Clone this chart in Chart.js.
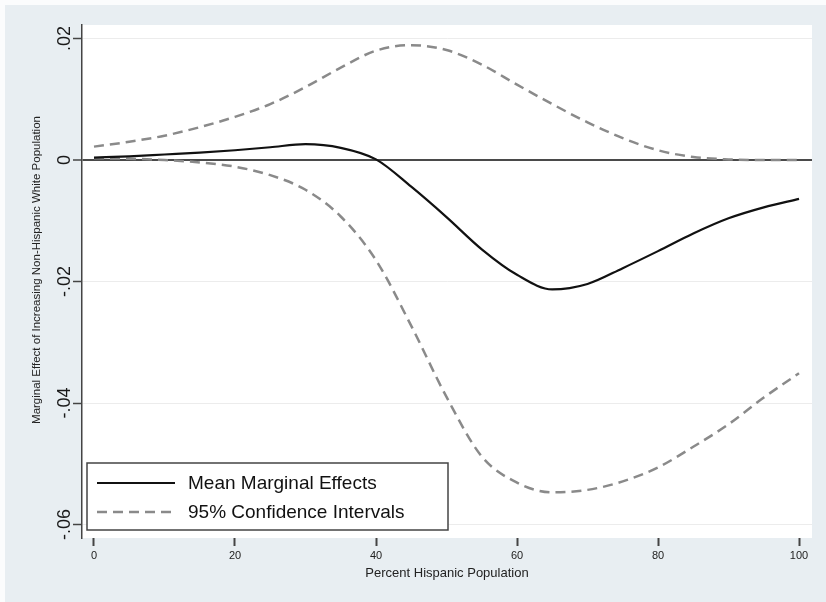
<!DOCTYPE html>
<html>
<head>
<meta charset="utf-8">
<script src="https://cdn.jsdelivr.net/npm/chart.js@4.4.1/dist/chart.umd.min.js"></script>
<style>
  html, body { margin: 0; padding: 0; background: #e8eef2; overflow: hidden; }
  #wrap { width: 826px; height: 602px; }
  canvas { display: block; }
</style>
</head>
<body>
<div id="wrap"><canvas id="c" width="826" height="602"></canvas></div>
<script>
// ---- Data ----
const xValues    = [0, 5, 10, 15, 20, 25, 30, 35, 40, 45, 50, 55, 60, 65, 70, 75, 80, 85, 90, 95, 100];
const meanEffect = [0.0004, 0.0006, 0.0009, 0.0012, 0.0016, 0.0021, 0.0026, 0.0020, 0.0001, -0.0044, -0.0094, -0.0147, -0.0189, -0.0213, -0.0204, -0.0178, -0.0150, -0.0121, -0.0096, -0.0078, -0.0064];
const upperCI    = [0.0022, 0.0030, 0.0040, 0.0054, 0.0071, 0.0092, 0.0120, 0.0152, 0.0180, 0.0189, 0.0181, 0.0157, 0.0124, 0.0092, 0.0062, 0.0036, 0.0016, 0.0005, 0.0001, 0.0000, 0.0000];
const lowerCI    = [0.0003, 0.0002, 0.0000, -0.0004, -0.0011, -0.0025, -0.0049, -0.0093, -0.0165, -0.0273, -0.0390, -0.0488, -0.0531, -0.0547, -0.0543, -0.0529, -0.0506, -0.0472, -0.0435, -0.0391, -0.0351];

const xTickValues = [0, 20, 40, 60, 80, 100];
const xTickLabels = ['0', '20', '40', '60', '80', '100'];
const yTickValues = [0.02, 0, -0.02, -0.04, -0.06];
const yTickLabels = ['.02', '0', '-.02', '-.04', '-.06'];

const seriesLabels = ['Mean Marginal Effects', '95% Confidence Intervals'];
const xTitle = 'Percent Hispanic Population';
const yTitle = 'Marginal Effect of Increasing Non-Hispanic White Population';

// ---- Styling ----
const FONT = '"Liberation Sans", Arial, Helvetica, sans-serif';
const BG = '#e8eef2';
const CI_COLOR = '#8a8a8a';
const CI_DASH = [10, 6];

const toPoints = (ys) => xValues.map((x, i) => ({ x: x, y: ys[i] }));

const bgPlugin = {
  id: 'bg',
  beforeDraw(chart) {
    const { ctx, width, height, chartArea: ca } = chart;
    ctx.save();
    ctx.fillStyle = '#fbfcfd';
    ctx.fillRect(0, 0, width, height);
    ctx.fillStyle = BG;
    ctx.fillRect(5, 5, width - 5, height - 5);
    ctx.fillStyle = '#ffffff';
    ctx.fillRect(ca.left, ca.top, ca.right - ca.left, ca.bottom - ca.top);
    ctx.restore();
  }
};

const overlayPlugin = {
  id: 'overlay',
  afterDraw(chart) {
    const { ctx, chartArea: ca } = chart;
    const ys = chart.scales.y;
    ctx.save();
    // y tick labels (rotated, Stata style)
    ctx.fillStyle = '#1a1a1a';
    ctx.font = '18px ' + FONT;
    ctx.textAlign = 'center';
    ctx.textBaseline = 'middle';
    yTickValues.forEach((v, i) => {
      const py = ys.getPixelForValue(v);
      ctx.save();
      ctx.translate(65, py);
      ctx.rotate(-Math.PI / 2);
      ctx.fillText(yTickLabels[i], 0, 0);
      ctx.restore();
    });
    // y axis title
    ctx.font = '11.5px ' + FONT;
    ctx.fillStyle = '#222';
    ctx.save();
    ctx.translate(37, 270);
    ctx.rotate(-Math.PI / 2);
    ctx.fillText(yTitle, 0, 0);
    ctx.restore();

    // legend box inside the plot region
    const lx = ca.left + 5, ly = ca.bottom - 75, lw = 361, lh = 67;
    ctx.fillStyle = '#ffffff';
    ctx.fillRect(lx, ly, lw, lh);
    ctx.strokeStyle = '#444';
    ctx.lineWidth = 1.5;
    ctx.strokeRect(lx, ly, lw, lh);

    const ds = chart.data.datasets;
    const rows = [ly + 20, ly + 49];
    [0, 1].forEach((k) => {
      const d = ds[k];
      ctx.beginPath();
      ctx.strokeStyle = d.borderColor;
      ctx.lineWidth = d.borderWidth;
      ctx.setLineDash(d.borderDash || []);
      ctx.moveTo(lx + 10, rows[k]);
      ctx.lineTo(lx + 88, rows[k]);
      ctx.stroke();
      ctx.setLineDash([]);
      ctx.fillStyle = '#111';
      ctx.font = '19px ' + FONT;
      ctx.textAlign = 'left';
      ctx.textBaseline = 'middle';
      ctx.fillText(seriesLabels[k], lx + 101, rows[k] + 1);
    });
    ctx.restore();
  }
};

new Chart(document.getElementById('c'), {
  type: 'line',
  data: {
    datasets: [
      {
        label: seriesLabels[0],
        data: toPoints(meanEffect),
        borderColor: '#111111',
        borderWidth: 2.2,
        pointRadius: 0,
        cubicInterpolationMode: 'monotone',
        fill: false
      },
      {
        label: seriesLabels[1],
        data: toPoints(upperCI),
        borderColor: CI_COLOR,
        borderWidth: 2.5,
        borderDash: CI_DASH,
        pointRadius: 0,
        cubicInterpolationMode: 'monotone',
        fill: false
      },
      {
        label: seriesLabels[1] + ' (lower)',
        data: toPoints(lowerCI),
        borderColor: CI_COLOR,
        borderWidth: 2.5,
        borderDash: CI_DASH,
        pointRadius: 0,
        cubicInterpolationMode: 'monotone',
        fill: false
      }
    ]
  },
  options: {
    responsive: false,
    animation: false,
    devicePixelRatio: 1,
    layout: { padding: { top: 25, right: 14, left: 0, bottom: 0 } },
    plugins: {
      legend: { display: false },
      tooltip: { enabled: false }
    },
    scales: {
      x: {
        type: 'linear',
        min: -1.7,
        max: 101.84,
        afterBuildTicks: (s) => { s.ticks = xTickValues.map(v => ({ value: v })); },
        afterFit: (s) => { s.height = 64; },
        ticks: {
          autoSkip: false,
          maxRotation: 0,
          padding: 3,
          color: '#222',
          font: { family: FONT, size: 11 },
          callback: (v) => xTickLabels[xTickValues.indexOf(v)]
        },
        grid: {
          drawOnChartArea: false,
          drawTicks: true,
          tickLength: 8,
          tickColor: '#444',
          tickWidth: 2
        },
        border: { display: false },
        title: {
          display: true,
          text: xTitle,
          color: '#222',
          font: { family: FONT, size: 13 },
          padding: { top: 0, bottom: 21 }
        }
      },
      y: {
        type: 'linear',
        min: -0.06222,
        max: 0.02222,
        afterBuildTicks: (s) => { s.ticks = yTickValues.map(v => ({ value: v })); },
        afterFit: (s) => { s.width = 82; },
        ticks: { display: false },
        grid: {
          color: (c) => (c.tick && c.tick.value === 0) ? '#4a4a4a' : '#ececec',
          lineWidth: (c) => (c.tick && c.tick.value === 0) ? 2 : 1,
          drawTicks: true,
          tickLength: 9,
          tickColor: '#444',
          tickWidth: 1.5
        },
        border: { display: true, color: '#444', width: 1.5 }
      }
    }
  },
  plugins: [bgPlugin, overlayPlugin]
});
</script>
</body>
</html>
